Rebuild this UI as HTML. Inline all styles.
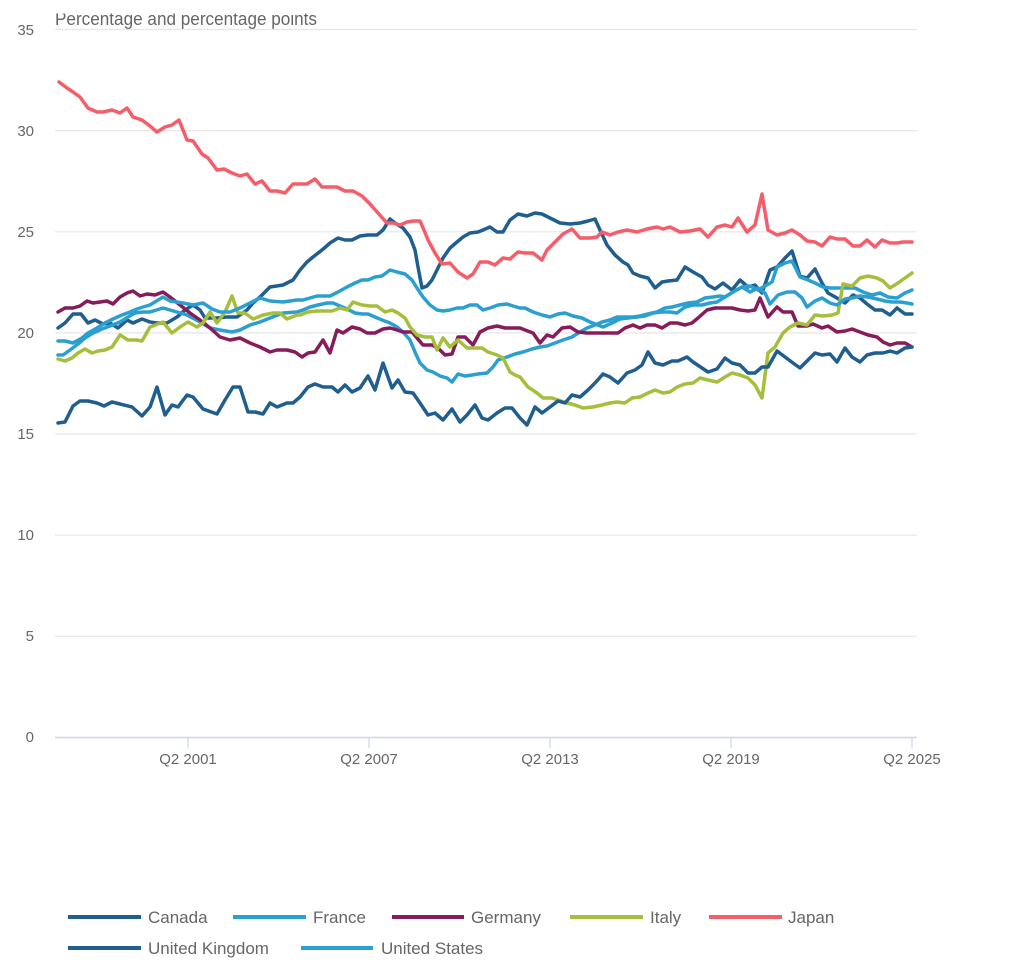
<!DOCTYPE html>
<html>
<head>
<meta charset="utf-8">
<style>
  html, body { margin: 0; padding: 0; background: #ffffff; }
  body { width: 1024px; height: 970px; overflow: hidden; }
  svg { display: block; }
  text { font-family: "Liberation Sans", Arial, sans-serif; fill: #666666; }
</style>
</head>
<body>
<svg width="1024" height="970" viewBox="0 0 1024 970" xmlns="http://www.w3.org/2000/svg">
  <rect x="0" y="0" width="1024" height="970" fill="#ffffff"/>

  <!-- Title (clipped at top) -->
  <text x="55" y="25" font-size="18" textLength="262" lengthAdjust="spacingAndGlyphs">Percentage and percentage points</text>
  <rect x="0" y="0" width="1024" height="13.5" fill="#ffffff"/>

  <!-- Gridlines -->
  <g stroke="#e6e6e6" stroke-width="1.2">
    <line x1="55" y1="29.5" x2="917" y2="29.5"/>
    <line x1="55" y1="130.6" x2="917" y2="130.6"/>
    <line x1="55" y1="231.8" x2="917" y2="231.8"/>
    <line x1="55" y1="332.9" x2="917" y2="332.9"/>
    <line x1="55" y1="434.0" x2="917" y2="434.0"/>
    <line x1="55" y1="535.2" x2="917" y2="535.2"/>
    <line x1="55" y1="636.3" x2="917" y2="636.3"/>
  </g>
  <!-- X axis -->
  <line x1="55" y1="737.5" x2="917" y2="737.5" stroke="#ccd6eb" stroke-width="1.5"/>
  <g stroke="#ccd6eb" stroke-width="1.2">
    <line x1="188" y1="737.5" x2="188" y2="748"/>
    <line x1="369" y1="737.5" x2="369" y2="748"/>
    <line x1="550" y1="737.5" x2="550" y2="748"/>
    <line x1="731" y1="737.5" x2="731" y2="748"/>
    <line x1="912" y1="737.5" x2="912" y2="748"/>
  </g>

  <!-- Y labels -->
  <g font-size="15" text-anchor="end">
    <text x="34" y="35">35</text>
    <text x="34" y="136">30</text>
    <text x="34" y="237">25</text>
    <text x="34" y="338">20</text>
    <text x="34" y="439">15</text>
    <text x="34" y="540">10</text>
    <text x="34" y="641">5</text>
    <text x="34" y="742">0</text>
  </g>
  <!-- X labels -->
  <g font-size="15" text-anchor="middle">
    <text x="188" y="764">Q2 2001</text>
    <text x="369" y="764">Q2 2007</text>
    <text x="550" y="764">Q2 2013</text>
    <text x="731" y="764">Q2 2019</text>
    <text x="912" y="764">Q2 2025</text>
  </g>

  <!-- Series -->
  <g fill="none" stroke-width="3.5" stroke-linejoin="round" stroke-linecap="round">
    <!-- Canada (dark blue, upper) -->
    <polyline stroke="#1f5e8e" points="58,328 65,323 73,314 81,314 88,323 95,320 103,324 110,323 118,328 127,320 133,323 142,319 150,322 157,323 167,323 177,317 185,310 193,305 200,310 205,318 217,318 227,317 237,317 247,310 253,303 260,297 270,287 283,285 293,280 300,270 307,262 313,257 322,250 330,243 338,238 345,240 352,240 360,236 368,235 377,235 383,230 390,219 395,223 403,228 410,237 415,250 418,267 422,288 427,286 432,280 438,268 443,258 450,248 457,242 463,237 470,233 478,232 483,230 490,227 497,232 503,232 510,220 518,214 527,216 535,213 542,214 552,219 560,223 570,224 580,223 588,221 595,219 600,230 607,245 615,255 623,262 628,265 633,273 640,276 648,278 655,288 662,282 668,281 677,280 685,267 693,272 702,277 708,285 715,289 723,283 732,290 740,280 748,287 755,285 762,293 770,270 777,267 785,258 792,251 800,276 807,278 815,269 822,283 828,293 837,298 845,303 853,295 860,298 867,304 875,310 882,310 890,315 897,308 905,314 912,314"/>
    <!-- France (light blue) -->
    <polyline stroke="#2ba0d0" points="58,355 63,355 70,350 78,344 85,338 93,333 102,329 110,326 120,322 128,317 135,313 143,312 150,312 163,308 177,312 187,315 200,322 210,328 220,330 232,332 240,330 250,325 260,322 270,318 283,313 297,312 303,310 310,307 318,305 327,303 333,303 340,306 347,309 355,313 362,314 368,314 375,317 382,320 390,323 397,327 403,332 410,340 415,352 420,363 427,370 433,372 440,376 447,378 452,382 458,374 465,376 472,375 478,374 487,373 493,367 498,360 507,357 515,354 523,352 532,349 540,347 547,346 555,343 563,340 572,337 580,332 587,328 595,325 602,322 610,320 617,317 625,317 633,317 640,316 648,314 657,312 665,308 672,307 680,305 688,303 697,302 705,298 713,297 720,296 725,297 733,292 742,287 750,286 758,290 765,286 772,282 777,267 785,263 792,261 800,277 808,280 815,283 823,287 830,288 838,288 847,288 855,288 863,292 872,295 880,293 888,297 897,298 905,293 912,290"/>
    <!-- Germany -->
    <polyline stroke="#861d5a" points="58,312 65,308 73,308 80,306 87,301 93,303 100,302 107,301 113,304 120,297 127,293 133,291 140,296 147,294 155,295 163,292 170,297 180,305 190,313 200,320 210,328 220,337 230,340 240,338 250,343 260,347 270,352 277,350 287,350 295,352 302,357 308,353 315,352 323,340 330,353 337,330 343,333 352,327 360,329 367,333 375,333 383,329 390,328 397,330 403,332 412,332 417,338 423,345 432,345 438,348 445,355 452,354 458,337 465,337 473,345 480,332 488,328 497,326 505,328 513,328 520,328 525,330 533,333 540,343 547,335 553,337 562,328 570,327 578,332 587,333 595,333 603,333 612,333 618,333 625,328 633,325 640,328 647,325 655,325 662,328 670,323 677,323 685,325 692,323 698,318 707,310 715,308 723,308 732,308 740,310 748,311 755,310 760,298 768,317 777,307 783,312 792,312 798,326 807,326 813,324 822,328 828,326 837,332 845,331 852,329 860,332 868,335 877,337 883,342 890,345 897,343 905,343 912,347"/>
    <!-- Italy -->
    <polyline stroke="#a5be3c" points="58,359 65,361 72,358 78,353 85,349 92,353 98,351 105,350 112,347 120,335 128,340 137,340 142,341 150,327 163,322 172,333 180,327 188,322 197,327 203,323 210,312 217,323 225,312 232,296 238,313 245,313 253,319 263,315 273,313 280,313 287,319 297,315 300,315 308,312 317,311 325,311 332,311 340,308 347,310 353,302 362,305 370,306 377,306 385,312 392,310 398,313 405,318 410,327 417,335 425,337 432,337 437,350 443,338 450,347 458,340 467,348 475,348 482,348 488,352 497,355 503,358 510,372 515,375 520,377 528,387 537,393 543,398 552,398 558,400 567,403 575,405 583,408 593,407 602,405 610,403 617,402 625,403 632,398 640,397 648,393 655,390 663,393 670,392 677,387 685,384 693,383 700,378 708,380 717,382 725,377 732,373 740,375 748,378 755,385 762,398 768,353 775,347 783,333 790,327 798,323 807,325 815,315 823,316 832,315 838,313 843,284 852,286 860,278 868,276 877,278 883,281 890,288 898,283 905,278 912,273"/>
    <!-- Japan -->
    <polyline stroke="#f45d69" points="59,82 67,88 73,92 80,97 88,108 97,112 103,112 112,110 120,113 127,108 133,117 142,120 150,126 157,132 165,127 172,125 179,120 187,140 193,141 202,154 208,158 217,170 224,169 232,173 240,176 247,174 255,184 262,181 270,191 277,191 285,193 293,184 307,184 315,179 322,187 337,187 345,191 353,191 362,196 370,204 378,213 387,223 393,223 400,225 407,222 413,221 420,221 424,230 428,240 435,253 442,264 450,263 458,272 467,278 473,274 480,262 488,262 495,265 503,258 510,259 518,252 525,253 533,253 542,260 547,250 555,242 563,234 572,229 580,238 590,238 597,237 602,232 610,235 618,232 627,230 637,232 647,229 657,227 663,229 670,227 680,232 690,231 700,229 708,237 717,227 725,225 732,227 738,218 747,232 755,225 762,194 768,230 777,235 785,233 792,230 800,235 807,241 815,242 822,246 830,237 837,239 845,239 853,246 860,246 867,240 875,247 882,240 890,243 897,243 903,242 912,242"/>
    <!-- United Kingdom (dark blue, lower) -->
    <polyline stroke="#1f5e8e" points="58,423 65,422 73,406 80,401 88,401 97,403 104,406 112,402 120,404 132,407 142,416 150,407 157,387 165,415 172,405 178,407 187,395 193,397 203,409 217,414 225,400 233,387 240,387 248,412 255,412 263,414 270,403 277,407 287,403 293,403 300,397 308,387 315,384 323,387 332,387 338,392 345,385 352,392 360,388 368,376 375,390 383,363 392,388 398,380 405,392 413,393 420,403 428,415 435,413 443,420 452,409 460,422 467,415 475,405 482,418 488,420 497,413 505,408 512,408 520,418 527,425 535,407 542,413 550,407 558,401 565,403 572,395 580,397 588,390 595,383 603,374 610,377 618,383 627,373 635,370 642,365 648,352 655,363 663,365 672,361 678,361 687,357 693,362 702,368 708,372 717,369 725,358 732,363 740,365 748,373 755,373 762,367 768,367 777,351 785,357 793,363 800,368 808,360 815,353 822,355 830,354 837,362 845,348 852,357 860,362 867,355 875,353 883,353 890,351 897,353 905,348 912,347"/>
    <!-- United States (light blue) -->
    <polyline stroke="#2ba0d0" points="58,341 65,341 73,343 82,338 88,333 97,328 105,323 113,319 122,315 130,312 137,309 143,307 150,305 163,297 170,301 183,303 193,305 203,303 212,309 220,312 230,312 240,308 250,303 260,298 270,301 283,302 297,300 303,300 310,298 317,296 323,296 330,296 338,292 347,287 355,283 362,280 368,280 375,277 382,276 390,270 397,272 405,274 412,280 417,288 423,297 430,305 437,310 443,311 450,310 457,308 463,308 470,305 477,305 483,310 490,308 498,305 507,304 513,306 520,308 525,308 533,312 542,315 550,317 558,314 565,313 573,316 582,318 590,322 598,325 603,327 612,323 620,319 628,318 637,317 645,316 653,313 662,312 670,312 677,313 685,307 693,305 702,305 710,303 717,302 725,297 733,292 742,287 750,292 758,288 765,293 770,304 778,295 787,292 795,292 802,298 807,307 815,301 822,298 830,303 837,305 845,299 852,298 860,296 868,297 877,299 885,301 892,302 900,302 907,303 912,304"/>
  </g>

  <!-- Legend -->
  <g stroke-width="4" stroke-linecap="butt">
    <line x1="68" y1="917" x2="141" y2="917" stroke="#1f5e8e"/>
    <line x1="233" y1="917" x2="306" y2="917" stroke="#2ba0d0"/>
    <line x1="392" y1="917" x2="464" y2="917" stroke="#861d5a"/>
    <line x1="570" y1="917" x2="643" y2="917" stroke="#a5be3c"/>
    <line x1="709" y1="917" x2="782" y2="917" stroke="#f45d69"/>
    <line x1="68" y1="948" x2="141" y2="948" stroke="#1f5e8e"/>
    <line x1="301" y1="948" x2="373" y2="948" stroke="#2ba0d0"/>
  </g>
  <g font-size="17">
    <text x="148" y="923">Canada</text>
    <text x="313" y="923">France</text>
    <text x="471" y="923">Germany</text>
    <text x="650" y="923">Italy</text>
    <text x="788" y="923">Japan</text>
    <text x="148" y="954">United Kingdom</text>
    <text x="381" y="954">United States</text>
  </g>
</svg>
</body>
</html>
